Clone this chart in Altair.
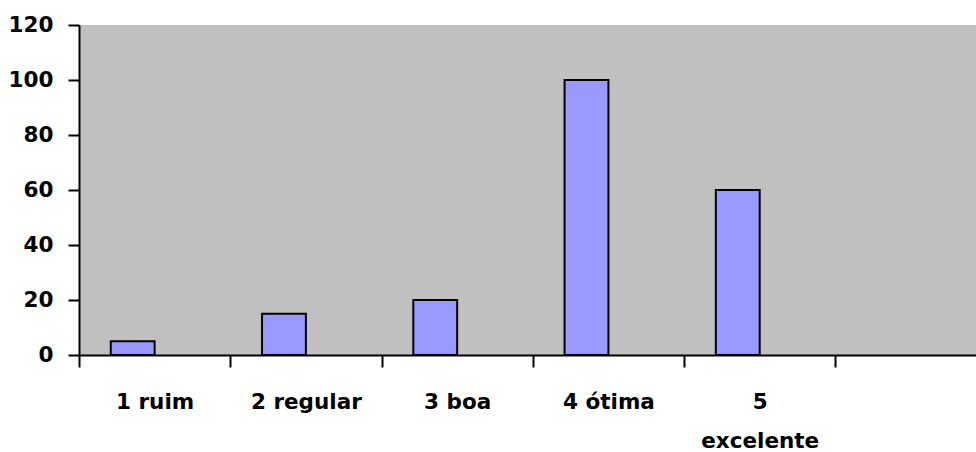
import json
import altair as alt
import pandas as pd

# Survey ratings and their counts
categories = ["1 ruim", "2 regular", "3 boa", "4 ótima", "5 excelente"]
values = [5, 15, 20, 100, 60]
y_ticks = [0, 20, 40, 60, 80, 100, 120]
# Category labels as they are broken into lines under the axis
x_label_lines = [["1 ruim"], ["2 regular"], ["3 boa"], ["4 ótima"], ["5", "excelente"]]

df = pd.DataFrame({"categoria": categories, "valor": values, "pos": list(range(len(categories)))})

FONT = "DejaVu Sans"
FS = 21.5

# ticks sit on category boundaries, labels at category centres
tick_vals = [i for i in range(len(categories) + 1)]
label_vals = [i + 0.5 for i in range(len(categories))]
axis_vals = sorted(tick_vals + label_vals)

label_expr = (
    f"datum.value % 1 == 0.5 ? {json.dumps(x_label_lines, ensure_ascii=False)}"
    "[floor(datum.value)] : ''"
)

x_axis = alt.Axis(
    values=axis_vals,
    labelExpr=label_expr,
    labelOverlap=False,
    labelFlush=False,
    labelBound=False,
    grid=False,
    title=None,
    domainColor="black",
    domainWidth=2,
    tickColor="black",
    tickWidth=2,
    tickSize=12,
    tickOpacity={"condition": {"test": "datum.value % 1 == 0", "value": 1}, "value": 0},
    labelFont=FONT,
    labelFontWeight="bold",
    labelFontSize=FS,
    labelColor="black",
    labelBaseline="top",
    labelLineHeight=39,
    labelPadding=24,
)

y_axis = alt.Axis(
    values=y_ticks,
    grid=False,
    title=None,
    domainColor="black",
    domainWidth=2,
    tickColor="black",
    tickWidth=2,
    tickSize=11,
    labelFont=FONT,
    labelFontWeight="bold",
    labelFontSize=FS,
    labelColor="black",
    labelPadding=15,
)

chart = (
    alt.Chart(df)
    .transform_calculate(x0="datum.pos + 0.21", x1="datum.pos + 0.5")
    .mark_bar(fill="#9999FF", stroke="black", strokeWidth=2)
    .encode(
        x=alt.X("x0:Q", scale=alt.Scale(domain=[0, 5.93], nice=False, zero=False), axis=x_axis),
        x2="x1:Q",
        y=alt.Y("valor:Q", scale=alt.Scale(domain=[0, 120], nice=False), axis=y_axis),
        y2=alt.datum(0),
        tooltip=["categoria:N", "valor:Q"],
    )
    .properties(
        width=897,
        height=330,
        padding={"left": 79, "top": 25, "right": 0, "bottom": 97},
        autosize="none",
        background="white",
    )
    .configure_view(fill="#C0C0C0", strokeWidth=0)
)

chart.save("out.html", embed_options={"renderer": "svg", "actions": False})
